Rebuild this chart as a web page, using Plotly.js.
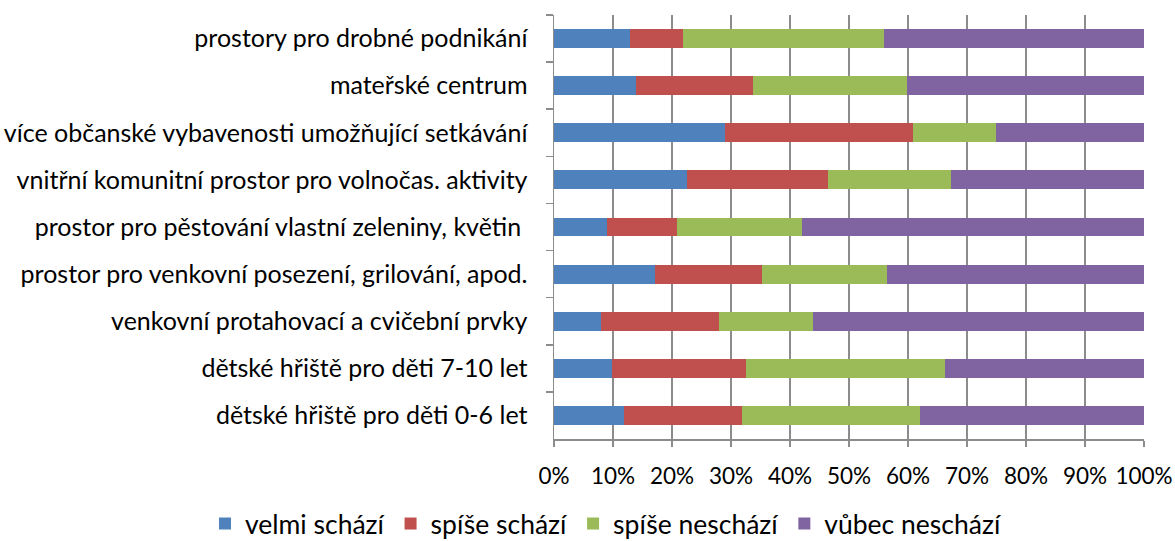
<!DOCTYPE html>
<html><head><meta charset="utf-8">
<script src="https://cdn.plot.ly/plotly-3.0.1.min.js"></script>
<style>html,body{margin:0;padding:0;background:#fff;}#chart{width:1175px;height:541px;}</style>
</head><body><div id="chart"></div>
<script>
const categories = [
  "prostory pro drobné podnikání",
  "mateřské centrum",
  "více občanské vybavenosti umožňující setkávání",
  "vnitřní komunitní prostor pro volnočas. aktivity",
  "prostor pro pěstování vlastní zeleniny, květin\u00a0",
  "prostor pro venkovní posezení, grilování, apod.",
  "venkovní protahovací a cvičební prvky",
  "dětské hřiště pro děti 7-10 let",
  "dětské hřiště pro děti 0-6 let"
];
const velmiSchazi   = [12.9, 13.9, 28.9, 22.6,  9.0, 17.1,  7.9,  9.8, 11.8];
const spiseSchazi   = [ 9.0, 19.9, 32.0, 23.8, 11.9, 18.1, 20.0, 22.7, 20.1];
const spiseNeschazi = [34.1, 26.1, 14.0, 20.9, 21.1, 21.3, 16.0, 33.8, 30.1];
const vubecNeschazi = [44.0, 40.1, 25.1, 32.7, 58.0, 43.5, 56.1, 33.7, 38.0];
const seriesNames = ["velmi schází", "spíše schází", "spíše neschází", "vůbec neschází"];
const seriesColors = ["#4F81BD", "#C0504D", "#9BBB59", "#8064A2"];
const tickVals = [0,10,20,30,40,50,60,70,80,90,100];
const tickText = ["0%","10%","20%","30%","40%","50%","60%","70%","80%","90%","100%"];

const FONT = "Lato, sans-serif";
const allSeries = [velmiSchazi, spiseSchazi, spiseNeschazi, vubecNeschazi];
const traces = allSeries.map((vals, i) => ({
  type: "bar", orientation: "h",
  x: vals, y: categories, name: seriesNames[i],
  marker: {color: seriesColors[i], line: {width: 0}},
  hoverinfo: "x+y+name"
}));
const layout = {
  width: 1175, height: 541,
  margin: {l: 554, r: 31, t: 15, b: 102, autoexpand: false},
  barmode: "stack", bargap: 0.6,
  paper_bgcolor: "#fff", plot_bgcolor: "#fff",
  font: {family: FONT, size: 24, color: "#000"},
  xaxis: {
    range: [0, 100], tickvals: tickVals, ticktext: tickText,
    showgrid: true, gridcolor: "#8C8C8C", gridwidth: 1.5,
    ticks: "outside", ticklen: 6, tickcolor: "#8C8C8C", tickwidth: 1.5,
    showline: true, linecolor: "#8C8C8C", linewidth: 1.5,
    zeroline: false, ticklabelstandoff: 10,
    tickfont: {family: FONT, size: 22.5}
  },
  yaxis: {
    autorange: "reversed", type: "category",
    tickson: "boundaries", ticks: "outside", ticklen: 7, tickcolor: "#8C8C8C", tickwidth: 1.5,
    showline: true, linecolor: "#8C8C8C", linewidth: 1.5,
    showgrid: false, ticklabelstandoff: 20,
    tickfont: {family: FONT, size: 25}
  },
  legend: {
    orientation: "h", xref: "paper", yref: "paper",
    x: -0.5915, xanchor: "left", y: -0.2, yanchor: "middle",
    font: {family: FONT, size: 26.5}, traceorder: "normal"
  },
  showlegend: true
};
Plotly.newPlot("chart", traces, layout, {displayModeBar: false, staticPlot: true});
</script></body></html>
